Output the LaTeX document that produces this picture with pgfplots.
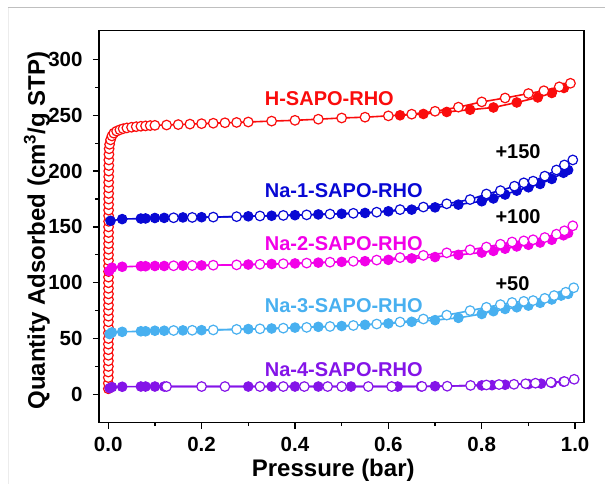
\documentclass[border=0pt]{standalone}
\usepackage{fontspec}
\setmainfont{Liberation Sans}
\usepackage{pgfplots}
\pgfplotsset{compat=1.18}
\definecolor{cH}{RGB}{250,12,12}
\definecolor{cA}{RGB}{8,8,212}
\definecolor{cB}{RGB}{242,0,232}
\definecolor{cC}{RGB}{72,176,240}
\definecolor{cD}{RGB}{132,20,232}
\pgfplotsset{
  fil/.style={line width=1.6pt, color=#1, mark=*, mark size=4.8pt, mark options={solid, fill=#1, draw=#1, line width=1pt}},
  opn/.style={line width=1.6pt, color=#1, mark=*, mark size=4.8pt, mark options={solid, fill=white, draw=#1, line width=1.2pt}},
}
\begin{document}
\begin{tikzpicture}
\begin{axis}[
  at={(0,0)}, anchor=south west,
  scale only axis, width=485pt, height=392pt,
  xmin=-0.0197, xmax=1.019, ymin=-25.4, ymax=325.8,
  axis line style={line width=1.6pt},
  tick style={line width=1.3pt, black},
  tick align=outside, tick pos=left,
  major tick length=6pt, minor tick length=3.5pt,
  xtick={0,0.2,0.4,0.6,0.8,1}, minor xtick={0.1,0.3,0.5,0.7,0.9},
  ytick={0,50,100,150,200,250,300}, minor ytick={25,75,125,175,225,275},
  xticklabel style={/pgf/number format/.cd, fixed, fixed zerofill, precision=1, /tikz/yshift=-5pt},
  yticklabel style={xshift=-7pt},
  /pgf/number format/assume math mode=true,
  ticklabel style={font=\fontsize{20.5}{24}\selectfont\bfseries},
  label style={font=\fontsize{24}{28}\selectfont\bfseries},
  xlabel={Pressure (bar)},
  ylabel={Quantity Adsorbed (cm\textsuperscript{3}/g STP)},
  xlabel style={at={(axis description cs:0.483,-0.121)}, anchor=center},
  ylabel style={at={(axis description cs:-0.128,0.49)}, anchor=center},
]
% H-SAPO-RHO
\addplot[fil=cH] coordinates {
(0.625,250.0)(0.675,251.2)(0.725,253.0)(0.775,255.0)(0.825,257.0)(0.875,261.5)(0.92,266.0)(0.95,270.0)(0.976,274.5)};
\addplot[opn=cH] coordinates {
(0.0003,5)(0.0003,10)(0.0003,15)(0.0003,20)(0.0004,25)(0.0004,30)(0.0004,35)(0.0004,40)(0.0004,45)(0.0005,50)
(0.0005,55)(0.0005,60)(0.0005,65)(0.0005,70)(0.0005,75)(0.0006,80)(0.0006,85)(0.0006,90)(0.0006,95)(0.0006,100)
(0.0007,105)(0.0007,110)(0.0007,115)(0.0007,120)(0.0007,125)(0.0008,130)(0.0008,135)(0.0008,140)(0.0008,145)(0.0008,150)
(0.0009,155)(0.0009,160)(0.0009,165)(0.0009,170)(0.001,175)(0.001,180)(0.001,185)(0.001,190)(0.0011,195)(0.0012,200)
(0.0013,205)(0.0014,210)(0.0016,215)(0.002,220)(0.003,224)(0.005,228)(0.008,231.5)(0.012,234)(0.018,235.8)(0.025,237)
(0.032,238)(0.04,238.7)(0.05,239.3)(0.06,239.8)(0.07,240.2)(0.08,240.5)(0.09,240.8)(0.1,241)
(0.125,241.3)(0.15,241.7)(0.175,242.1)(0.2,242.5)(0.225,242.9)(0.25,243.3)(0.275,243.6)(0.3,244)
(0.35,244.8)(0.4,245.5)(0.45,246.5)(0.5,247.6)(0.55,248.3)(0.6,249.5)(0.65,251)(0.7,253.6)(0.75,257.3)
(0.8,262)(0.85,265.5)(0.9,269.5)(0.933,272)(0.966,275.5)(0.99,278.7)};
% Na-1
\addplot[fil=cA] coordinates {
(0.005,155.5)(0.03,157)(0.07,157.5)(0.08,157.6)(0.1,158)(0.12,158.1)(0.16,158.5)(0.2,158.7)(0.3,159.5)(0.35,160)
(0.4,160.5)(0.45,161.2)(0.5,161.8)(0.55,162.5)(0.6,164)(0.65,165.5)(0.7,167.5)(0.75,170)(0.8,173)(0.825,175.5)
(0.85,179)(0.875,182.5)(0.9,185.5)(0.925,188.5)(0.95,193)(0.975,198.5)(0.985,201)};
\addplot[opn=cA] coordinates {
(0.14,158.2)(0.18,158.5)(0.225,158.8)(0.275,159.2)(0.325,159.8)(0.375,160.3)(0.425,160.8)(0.475,161.5)(0.525,162.2)
(0.575,163.2)(0.625,165.5)(0.675,167.8)(0.725,170.7)(0.775,174.5)(0.81,179.5)(0.84,182.5)(0.87,186.5)(0.89,189.5)
(0.91,191)(0.935,195.5)(0.96,201)(0.977,205.5)(0.995,210)};
% Na-2
\addplot[fil=cB] coordinates {
(0.002,110.5)(0.008,113.5)(0.03,114.3)(0.07,114.8)(0.08,114.8)(0.1,115)(0.12,115)(0.16,115.3)(0.2,115.5)(0.3,116.3)
(0.35,116.8)(0.4,117.3)(0.45,118)(0.5,118.7)(0.55,119.3)(0.6,120.5)(0.65,121.8)(0.7,123)(0.75,125)(0.8,127)
(0.825,128.5)(0.85,130.5)(0.875,132.5)(0.9,134)(0.925,136)(0.95,138.5)(0.975,142.5)(0.985,144.5)};
\addplot[opn=cB] coordinates {
(0.14,115.2)(0.18,115.4)(0.225,115.7)(0.275,116)(0.325,116.5)(0.375,117)(0.425,117.6)(0.475,118.4)(0.525,119.2)
(0.575,120.3)(0.625,122.5)(0.675,124.5)(0.725,126.8)(0.775,129.5)(0.81,132)(0.84,134.5)(0.865,136.5)(0.89,137.5)
(0.91,138.5)(0.935,140.5)(0.96,143.5)(0.977,146.5)(0.995,151)};
% Na-3
\addplot[fil=cC] coordinates {
(0.003,54)(0.008,55.5)(0.03,56)(0.07,56.5)(0.08,56.5)(0.1,57)(0.12,57)(0.16,57.3)(0.2,57.5)(0.3,58.5)
(0.35,59)(0.4,59.8)(0.45,60.5)(0.5,61.2)(0.55,62.3)(0.6,63.5)(0.65,65)(0.7,66.5)(0.75,68.5)(0.8,72)
(0.825,74.5)(0.85,76.5)(0.875,78)(0.9,79.5)(0.925,82)(0.95,85)(0.97,88.5)(0.985,90)};
\addplot[opn=cC] coordinates {
(0.14,57.2)(0.18,57.4)(0.225,57.7)(0.275,58.2)(0.325,58.7)(0.375,59.3)(0.425,60)(0.475,60.8)(0.525,61.7)
(0.575,63)(0.625,64.8)(0.675,67.5)(0.725,71)(0.775,75)(0.81,78)(0.84,80.4)(0.865,82.3)(0.89,83.3)
(0.91,84)(0.935,86)(0.955,88.5)(0.98,91.5)(0.997,95.5)};
% Na-4
\addplot[fil=cD] coordinates {
(0.003,5.5)(0.008,6.5)(0.03,6.8)(0.07,7)(0.08,7)(0.1,7)(0.12,7)(0.3,7)(0.35,7)(0.4,7)(0.45,7)(0.52,7)(0.62,7)
(0.67,7.1)(0.7,7.3)(0.8,8)(0.822,8.2)(0.85,8.6)(0.9,9.2)(0.927,9.6)(0.95,10.3)(0.975,11.3)};
\addplot[opn=cD] coordinates {
(0.125,7)(0.2,7)(0.25,7)(0.325,7)(0.375,7)(0.42,7)(0.47,7)(0.5,7)(0.557,7)(0.607,7)(0.672,7.1)(0.726,7.3)
(0.776,8)(0.81,8.4)(0.837,8.8)(0.869,9)(0.894,9.5)(0.915,10)(0.948,10.8)(0.977,11.5)(0.998,13.5)};
% labels
\node[anchor=west, text=cH, font=\fontsize{20}{24}\selectfont\bfseries] at (axis cs:0.328,265.2) {H-SAPO-RHO};
\node[anchor=west, text=cA, font=\fontsize{20}{24}\selectfont\bfseries] at (axis cs:0.328,182.4) {Na-1-SAPO-RHO};
\node[anchor=west, text=cB, font=\fontsize{20}{24}\selectfont\bfseries] at (axis cs:0.328,135.3) {Na-2-SAPO-RHO};
\node[anchor=west, text=cC, font=\fontsize{20}{24}\selectfont\bfseries] at (axis cs:0.328,79.1) {Na-3-SAPO-RHO};
\node[anchor=west, text=cD, font=\fontsize{20}{24}\selectfont\bfseries] at (axis cs:0.328,22.4) {Na-4-SAPO-RHO};
\node[anchor=west, font=\fontsize{20}{24}\selectfont\bfseries] at (axis cs:0.822,217.4) {+150};
\node[anchor=west, font=\fontsize{20}{24}\selectfont\bfseries] at (axis cs:0.822,159.1) {+100};
\node[anchor=west, font=\fontsize{20}{24}\selectfont\bfseries] at (axis cs:0.822,99.5) {+50};
\end{axis}
\draw[gray!50, line width=1pt] (-91pt,414.7pt) -- (506pt,414.7pt);
\draw[gray!15, line width=0.8pt] (-90.5pt,414.7pt) -- (-90.5pt,-61.3pt);
\pgfresetboundingbox
\path (-99pt,-61.3pt) rectangle (506pt,422.7pt);
\end{tikzpicture}
\end{document}
